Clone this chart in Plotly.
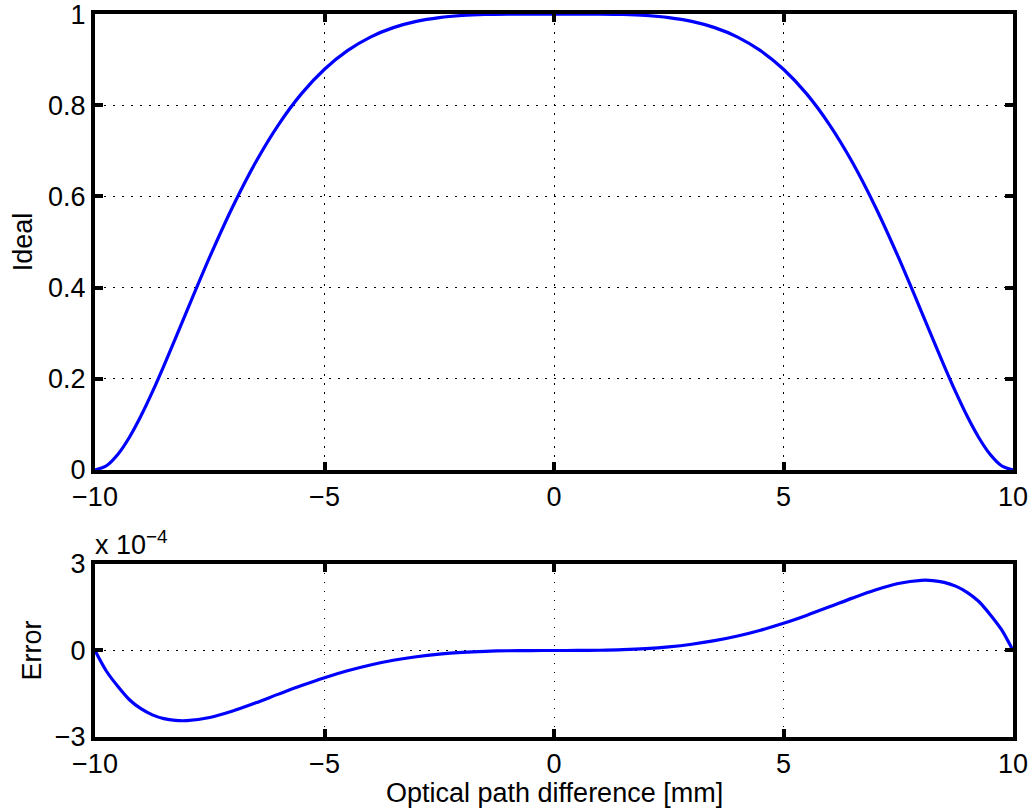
import plotly.graph_objects as go
from plotly.subplots import make_subplots

# Optical path difference [mm]
opd = [-10.0, -9.75, -9.5, -9.25, -9.0, -8.75, -8.5, -8.25, -8.0, -7.5, -7.0, -6.5, -6.0, -5.5, -5.0,
       -4.5, -4.0, -3.5, -3.0, -2.5, -2.0, -1.5, -1.0, -0.5, 0.0,
       0.5, 1.0, 1.5, 2.0, 2.5, 3.0, 3.5, 4.0, 4.5, 5.0,
       5.5, 6.0, 6.5, 7.0, 7.5, 8.0, 8.25, 8.5, 8.75, 9.0, 9.25, 9.5, 9.75, 10.0]

ideal = [0.0, 0.0093, 0.0344, 0.0718, 0.1183, 0.1712, 0.2285, 0.2881, 0.3486, 0.4673, 0.5774,
         0.6749, 0.7576, 0.8254, 0.8789,
         0.9197, 0.9495, 0.9702, 0.9839, 0.9922, 0.9968, 0.9990, 0.9998, 1.0000, 1.0000,
         1.0000, 0.9998, 0.9990, 0.9968, 0.9922, 0.9839, 0.9702, 0.9495, 0.9197, 0.8789,
         0.8254, 0.7576, 0.6749, 0.5774, 0.4673, 0.3486, 0.2881, 0.2285, 0.1712, 0.1183,
         0.0718, 0.0344, 0.0093, 0.0]

# error in units of 1e-4
error_e4 = [0.0, -0.72, -1.25, -1.707, -2.018, -2.232, -2.363, -2.426, -2.433, -2.322, -2.098,
            -1.816, -1.513, -1.217, -0.943,
            -0.704, -0.502, -0.340, -0.216, -0.125, -0.064, -0.027, -0.008, -0.001, 0.0,
            0.001, 0.008, 0.027, 0.064, 0.125, 0.216, 0.340, 0.502, 0.704, 0.943,
            1.217, 1.513, 1.816, 2.098, 2.322, 2.433, 2.426, 2.363, 2.232, 2.018,
            1.707, 1.25, 0.72, 0.0]

x_ticks = [-10, -5, 0, 5, 10]
x_ticktext = ["\u221210", "\u22125", "0", "5", "10"]
ideal_ticks = [0, 0.2, 0.4, 0.6, 0.8, 1]
ideal_ticktext = ["0", "0.2", "0.4", "0.6", "0.8", "1"]
err_ticks = [-3, 0, 3]
err_ticktext = ["\u22123", "0", "3"]

FONT = "Liberation Sans, Arial, Helvetica, sans-serif"
FS = 27
TXT = dict(family=FONT, size=FS, color="black")

fig = make_subplots(rows=2, cols=1)

line_style = dict(color="#0000ff", width=3.2, shape="spline", smoothing=0.8)
fig.add_trace(go.Scatter(x=opd, y=ideal, mode="lines", line=line_style,
                         showlegend=False), row=1, col=1)
fig.add_trace(go.Scatter(x=opd, y=error_e4, mode="lines", line=line_style,
                         showlegend=False), row=2, col=1)

axis_common = dict(showline=True, linecolor="black", linewidth=4, mirror="ticks",
                   ticks="inside", ticklen=8, tickwidth=4, tickcolor="black",
                   showgrid=True, gridcolor="black", gridwidth=1.2, griddash="1.5px,7.5px",
                   zeroline=False, tickfont=TXT, automargin=False,
                   ticklabeloverflow="allow")

fig.update_xaxes(**axis_common, range=[-10, 10], tickvals=x_ticks, ticktext=x_ticktext)
fig.update_xaxes(domain=[0, 1], row=1, col=1)
fig.update_xaxes(domain=[0, 1], row=2, col=1)

fig.update_yaxes(**axis_common)
fig.update_yaxes(domain=[0.3693, 1.0], range=[0, 1.0001], tickvals=ideal_ticks,
                 ticktext=ideal_ticktext, row=1, col=1,
                 title=dict(text="Ideal", font=TXT, standoff=9))
fig.update_yaxes(domain=[0, 0.2393], range=[-3, 3], tickvals=err_ticks,
                 ticktext=err_ticktext, row=2, col=1,
                 title=dict(text="Error", font=TXT, standoff=6))

fig.add_annotation(text="x 10<sup>\u22124</sup>", xref="paper", yref="paper",
                   x=0.0, y=0.2393, xanchor="left", yanchor="bottom", yshift=2, xshift=-2,
                   showarrow=False, font=TXT)
fig.add_annotation(text="Optical path difference [mm]", xref="paper", yref="paper",
                   x=0.5, y=-0.0775, xanchor="center", yanchor="middle",
                   showarrow=False, font=TXT)

fig.update_layout(width=1035, height=812, margin=dict(l=95, r=22, t=14, b=75),
                  plot_bgcolor="white", paper_bgcolor="white", font=TXT)

fig.write_html("out.html")
